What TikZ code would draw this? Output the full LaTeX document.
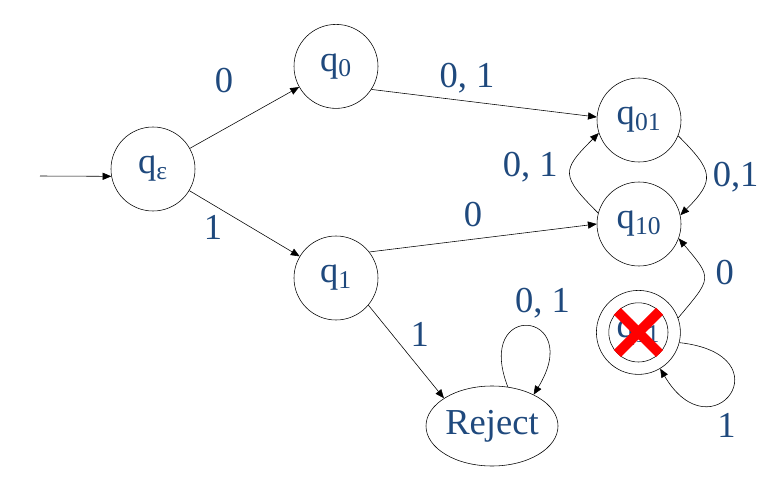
\documentclass[tikz,border=0pt]{standalone}
\usepackage{fontspec}
\setmainfont{Liberation Serif}
\usetikzlibrary{arrows.meta, shapes.geometric}
\definecolor{inkblue}{RGB}{31,73,125}

\begin{document}
\begin{tikzpicture}[
    state/.style={draw, circle, minimum size=2.1cm, inner sep=0pt,
                  font=\fontsize{26}{31}\selectfont, text=inkblue},
    reject/.style={draw, ellipse, minimum width=3.25cm, minimum height=2cm,
                   inner sep=0pt, font=\fontsize{26}{31}\selectfont, text=inkblue},
    lbl/.style={font=\fontsize{26}{31}\selectfont, text=inkblue},
    cross/.style={draw=red, line width=7pt},
    >={Triangle[length=2.2mm, width=1.8mm]}
  ]
  \useasboundingbox (0,0) rectangle (19.575,12.15);

  % States
  \node[state] (qe) at (3.825, 7.925) {q\textsubscript{ε}};
  \node[state] (q0) at (8.4, 10.49) {q\textsubscript{0}};
  \node[state] (q1) at (8.4, 5.2) {q\textsubscript{1}};
  \node[state] (q01) at (15.975, 9.15) {q\textsubscript{01}};
  \node[state] (q10) at (15.975, 6.55) {q\textsubscript{10}};
  \node[state] (q11) at (15.96, 3.84) {};
  \node[state, minimum size=1.48cm] (q11in) at (15.96, 3.84) {q\textsubscript{11}};
  \node[reject] (rej) at (12.3, 1.5) {Reject};
  \coordinate (start) at (1.0, 7.75);

  % Start arrow
  \draw[->] (start) -- (qe.190);

  % Transitions
  \draw[->] (qe) -- (q0) node[lbl, midway, xshift=-0.51cm, yshift=0.93cm] {0};
  \draw[->] (qe) -- (q1) node[lbl, midway, xshift=-0.79cm, yshift=-0.09cm] {1};
  \draw[->] (q0.-33) -- (q01.176) node[lbl, midway, xshift=-0.43cm, yshift=0.63cm] {0, 1};
  \draw[->] (q1.38) -- (q10.180) node[lbl, midway, xshift=-0.25cm, yshift=0.575cm] {0};
  \draw[->] (q1.-40) -- (rej.150) node[lbl, midway, xshift=0.34cm, yshift=0.42cm] {1};
  \draw[->] (rej.68) .. controls +(-0.85,2.2) and +(1.3,2.1) .. (rej.37.5)
    node[lbl, midway, xshift=0.375cm, yshift=0.575cm] {0, 1};
  \draw[->] (q10.165) to[out=135, in=-135, looseness=1.7]
    node[lbl, midway, xshift=-1.0cm, yshift=0.15cm] {0, 1} (q01.198);
  \draw[->] (q01.-22) to[out=-45, in=45, looseness=1.6]
    node[lbl, midway, xshift=0.75cm, yshift=-0.05cm] {0,1} (q10.12);
  \draw[->] (q11.20) to[out=50, in=-50, looseness=1.7]
    node[lbl, midway, xshift=0.52cm, yshift=0.15cm] {0} (q10.-20);
  \draw[->] (q11.-14) .. controls +(2.7,-0.3) and +(1.3,-2.2) .. (q11.-59)
    node[lbl, midway, xshift=-0.08cm, yshift=-0.8cm] {1};

  % Crossed out state
  \draw[cross] (q11in.north west) -- (q11in.south east);
  \draw[cross] (q11in.north east) -- (q11in.south west);

\end{tikzpicture}
\end{document}
